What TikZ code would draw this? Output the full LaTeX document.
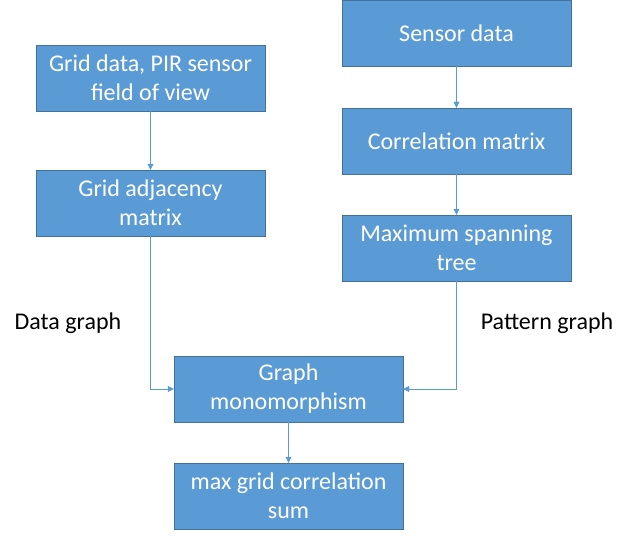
\documentclass[tikz,border=0pt]{standalone}
\usepackage{fontspec}
\setmainfont{Carlito}
\usetikzlibrary{arrows.meta}
\definecolor{boxfill}{HTML}{5B9BD5}
\definecolor{boxline}{HTML}{41719C}
\begin{document}
\begin{tikzpicture}[x=1pt,y=-1pt,
  stepbox/.style={draw=boxline,fill=boxfill,text=white,minimum width=229pt,minimum height=66pt,
    inner sep=0pt,align=center,font=\fontsize{24}{29}\selectfont},
  flow/.style={draw=boxfill,-{Triangle[length=6pt,width=6pt]}},
  tag/.style={font=\fontsize{24}{29}\selectfont}]
  \useasboundingbox (0,0) rectangle (644,540);
  \node[stepbox] (sensor) at (456.5,33) {Sensor data};
  \node[stepbox] (corr) at (456.5,141) {Correlation matrix};
  \node[stepbox] (mst) at (456.5,248) {Maximum spanning\\tree};
  \node[stepbox] (grid) at (150.5,78) {Grid data, PIR sensor\\field of view};
  \node[stepbox] (adj) at (150.5,203) {Grid adjacency\\matrix};
  \node[stepbox] (mono) at (288.5,389) {Graph\\monomorphism};
  \node[stepbox] (maxsum) at (288.5,496) {max grid correlation\\sum};
  \node[tag] (datalbl) at (68,323) {Data graph};
  \node[tag] (patlbl) at (547,323) {Pattern graph};
  \draw[flow] (sensor) -- (corr);
  \draw[flow] (corr) -- (mst);
  \draw[flow] (grid) -- (adj);
  \draw[flow] (adj.south) |- (mono.west);
  \draw[flow] (mst.south) |- (mono.east);
  \draw[flow] (mono) -- (maxsum);
\end{tikzpicture}
\end{document}
